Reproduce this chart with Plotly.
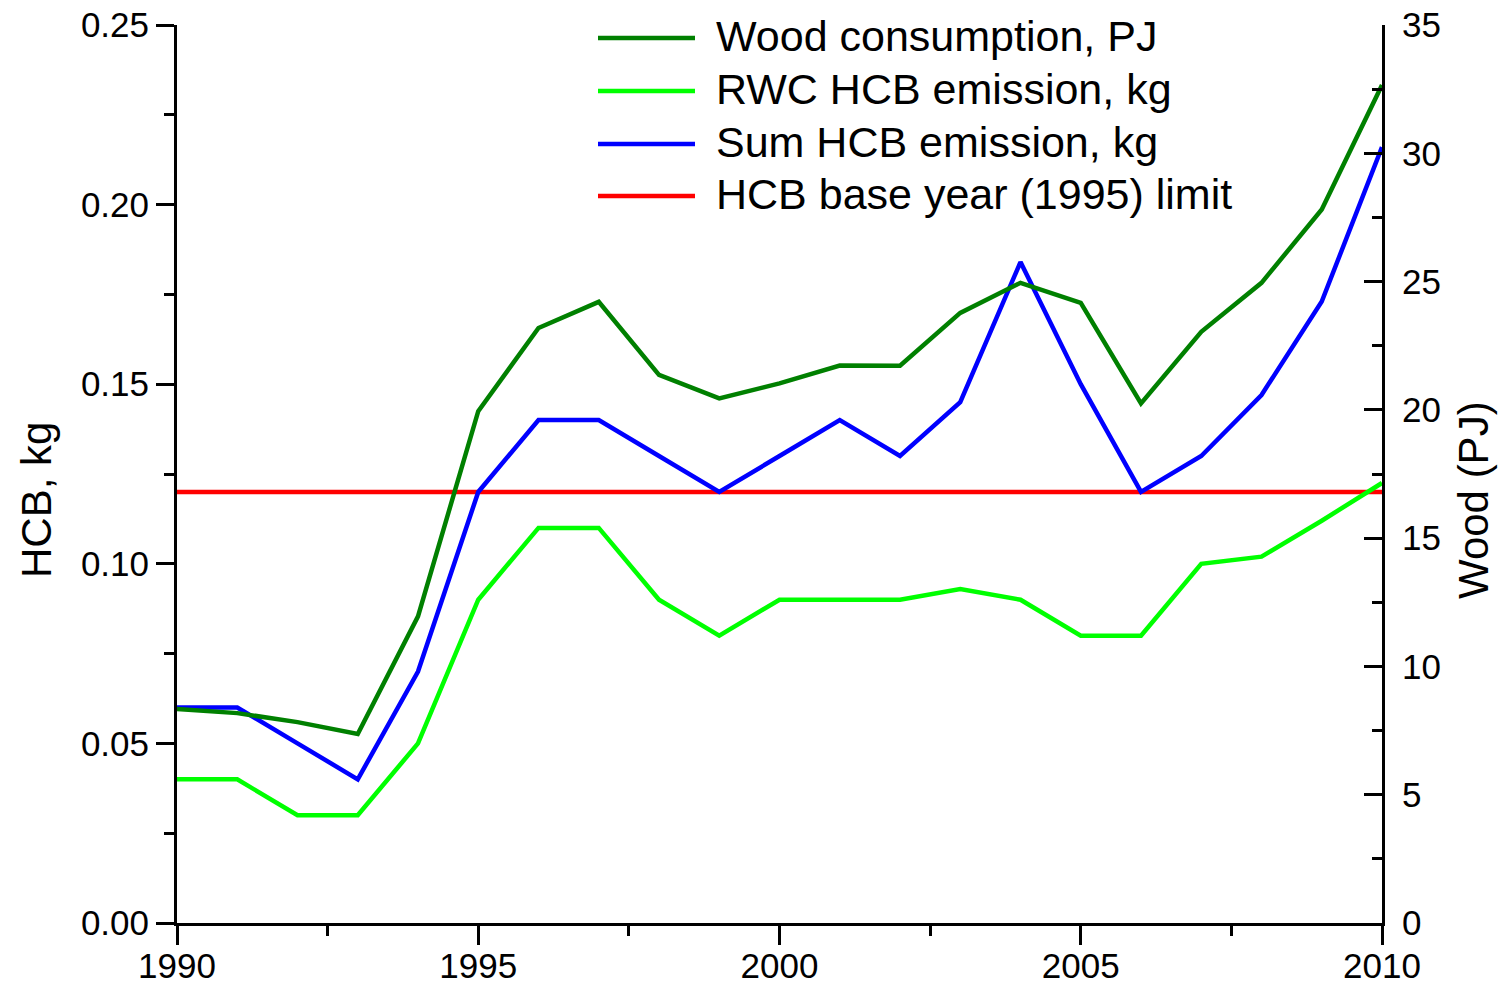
import plotly.graph_objects as go

years = list(range(1990, 2011))
wood_pj = [8.34, 8.18, 7.83, 7.37, 11.95, 19.95, 23.19, 24.21, 21.36, 20.45,
           21.03, 21.73, 21.72, 23.78, 24.95, 24.17, 20.25, 23.04, 24.95, 27.81, 32.66]
rwc_hcb = [0.04, 0.04, 0.03, 0.03, 0.05, 0.09, 0.11, 0.11, 0.09, 0.08,
           0.09, 0.09, 0.09, 0.093, 0.09, 0.08, 0.08, 0.10, 0.102, 0.112, 0.1225]
sum_hcb = [0.06, 0.06, 0.05, 0.04, 0.07, 0.12, 0.14, 0.14, 0.13, 0.12,
           0.13, 0.14, 0.13, 0.145, 0.184, 0.15, 0.12, 0.13, 0.147, 0.173, 0.216]
base_limit = 0.12
limit_hcb = [base_limit for _ in years]

names = ["Wood consumption, PJ", "RWC HCB emission, kg",
         "Sum HCB emission, kg", "HCB base year (1995) limit"]
colors = ["#008000", "#00FF00", "#0000FF", "#FF0000"]

FONT = "Liberation Sans, Arial, sans-serif"

fig = go.Figure()
fig.add_trace(go.Scatter(x=years, y=limit_hcb, mode="lines", name=names[3],
                         line=dict(color=colors[3], width=4.5), yaxis="y"))
fig.add_trace(go.Scatter(x=years, y=rwc_hcb, mode="lines", name=names[1],
                         line=dict(color=colors[1], width=4.5), yaxis="y"))
fig.add_trace(go.Scatter(x=years, y=sum_hcb, mode="lines", name=names[2],
                         line=dict(color=colors[2], width=4.5), yaxis="y"))
fig.add_trace(go.Scatter(x=years, y=wood_pj, mode="lines", name=names[0],
                         line=dict(color=colors[0], width=4.5), yaxis="y2"))

# the page body margin is removed (post_script below), so the figure fills the window
W, H = 1508, 984
L, R, T, B = 177, 126, 25, 61
pw, ph = W - L - R, H - T - B

def px(xp):
    return (xp - L) / pw

def py(yp):
    return (H - B - yp) / ph

shapes = []
annotations = []
legend_y = [38, 91, 144, 196]
for i, (nm, c) in enumerate(zip(names, colors)):
    yy = py(legend_y[i])
    shapes.append(dict(type="line", xref="paper", yref="paper",
                       x0=px(598), x1=px(695), y0=yy, y1=yy,
                       line=dict(color=c, width=4.5)))
    annotations.append(dict(xref="paper", yref="paper", x=px(714), y=yy + 0.002,
                            text=nm, showarrow=False, xanchor="left", yanchor="middle",
                            font=dict(size=43, color="black", family=FONT)))

annotations.append(dict(xref="paper", yref="paper", x=px(37), y=py(500),
                        text="HCB, kg", textangle=-90, showarrow=False,
                        xanchor="center", yanchor="middle",
                        font=dict(size=42, color="black", family=FONT)))
annotations.append(dict(xref="paper", yref="paper", x=px(1474), y=py(500),
                        text="Wood (PJ)", textangle=-90, showarrow=False,
                        xanchor="center", yanchor="middle",
                        font=dict(size=42, color="black", family=FONT)))

fig.update_layout(
    width=W, height=H, autosize=False,
    margin=dict(l=L, r=R, t=T, b=B, pad=0, autoexpand=False),
    paper_bgcolor="white", plot_bgcolor="white",
    showlegend=False, hovermode=False,
    font=dict(family=FONT, size=35, color="black"),
    shapes=shapes, annotations=annotations,
    xaxis=dict(range=[1990, 2010], tickmode="linear", tick0=1990, dtick=5, automargin=False,
               showgrid=False, zeroline=False, showline=True, linewidth=3, linecolor="black",
               ticks="outside", ticklen=19, tickwidth=3, tickcolor="black",
               minor=dict(ticks="outside", ticklen=10, tickwidth=3, tickcolor="black", dtick=2.5, tick0=1990),
               tickfont=dict(size=35, family=FONT), ticklabelstandoff=-9,
               ticklabeloverflow="allow"),
    yaxis=dict(range=[0, 0.25], tickmode="linear", tick0=0, dtick=0.05, tickformat=".2f", automargin=False,
               showgrid=False, zeroline=False, showline=True, linewidth=3, linecolor="black",
               ticks="outside", ticklen=18, tickwidth=3, tickcolor="black",
               minor=dict(ticks="outside", ticklen=10, tickwidth=3, tickcolor="black", dtick=0.025, tick0=0),
               tickfont=dict(size=35, family=FONT), ticklabelstandoff=0,
               ticklabeloverflow="allow"),
    yaxis2=dict(range=[0, 35], tickmode="linear", tick0=0, dtick=5, overlaying="y", side="right",
                anchor="x", automargin=False, showgrid=False, zeroline=False, showline=True,
                linewidth=3, linecolor="black",
                ticks="inside", ticklen=18, tickwidth=3, tickcolor="black",
                minor=dict(ticks="inside", ticklen=10, tickwidth=3, tickcolor="black", dtick=2.5, tick0=0),
                tickfont=dict(size=35, family=FONT), ticklabelstandoff=10,
                ticklabeloverflow="allow"),
)

fig.write_html("out.html", config={"displayModeBar": False, "staticPlot": True},
               post_script="document.body.style.margin='0px';")
